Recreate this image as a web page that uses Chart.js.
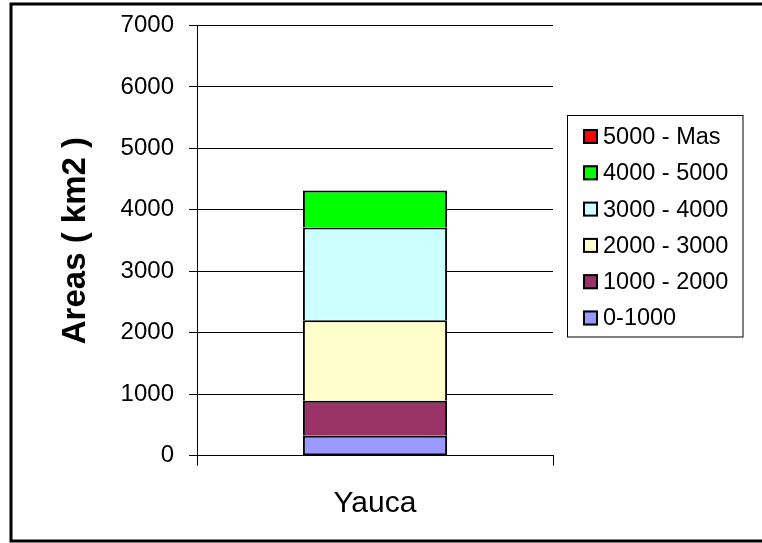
<!DOCTYPE html>
<html>
<head>
<meta charset="utf-8">
<script src="https://cdn.jsdelivr.net/npm/chart.js@4/dist/chart.umd.min.js"></script>
<style>
html,body{margin:0;padding:0;background:#fff;}
canvas{display:block;}
</style>
</head>
<body>
<canvas id="c" width="762" height="543"></canvas>
<script>
// ---- data ----
const categories = ['Yauca'];
const seriesLabels = ['0-1000', '1000 - 2000', '2000 - 3000', '3000 - 4000', '4000 - 5000', '5000 - Mas'];
const v0_1000 = [325];
const v1000_2000 = [570];
const v2000_3000 = [1310];
const v3000_4000 = [1510];
const v4000_5000 = [600];
const v5000_mas = [0];
const seriesColors = ['#9999FF', '#993366', '#FFFFCC', '#CCFFFF', '#00FF00', '#FF0000'];
const yMin = 0, yMax = 7000, yStep = 1000;
const yTitle = 'Areas ( km2 )';

const FONT = '"Liberation Sans", Arial, Helvetica, sans-serif';
const seriesValues = [v0_1000, v1000_2000, v2000_3000, v3000_4000, v4000_5000, v5000_mas];

const datasets = seriesLabels.map((lab, i) => ({
  label: lab,
  data: seriesValues[i],
  backgroundColor: seriesColors[i],
  borderColor: '#000',
  borderWidth: 2,
  borderSkipped: i === 0 ? false : 'start',
  categoryPercentage: 1,
  barPercentage: 0.405
}));

const framePlugin = {
  id: 'frame',
  beforeDraw(chart) {
    const ctx = chart.ctx;
    ctx.save();
    ctx.fillStyle = '#fff';
    ctx.fillRect(0, 0, chart.width, chart.height);
    ctx.strokeStyle = '#000';
    ctx.lineWidth = 3;
    ctx.strokeRect(11, 4, 780, 537);
    ctx.restore();
  },
  afterDraw(chart) {
    const ctx = chart.ctx;
    ctx.save();
    ctx.strokeStyle = '#000';
    ctx.lineWidth = 1;
    ctx.strokeRect(567.5, 115.5, 175.5, 221.5);
    const ds = chart.data.datasets;
    ctx.font = '23.5px ' + FONT;
    ctx.textBaseline = 'middle';
    ctx.textAlign = 'left';
    for (let i = 0; i < ds.length; i++) {
      const d = ds[ds.length - 1 - i];
      const cy = 136.5 + i * 36.3;
      ctx.fillStyle = d.backgroundColor;
      ctx.fillRect(583, cy - 7.5, 15, 15);
      ctx.lineWidth = 2;
      ctx.strokeStyle = '#000';
      ctx.strokeRect(584, cy - 6.5, 13, 13);
      ctx.fillStyle = '#000';
      ctx.fillText(d.label, 603, cy + 1);
    }
    ctx.restore();
  }
};

new Chart(document.getElementById('c'), {
  type: 'bar',
  data: { labels: categories, datasets: datasets },
  options: {
    responsive: false,
    animation: false,
    devicePixelRatio: 1,
    layout: { padding: { left: 0, right: 209, top: 25.5, bottom: 0 } },
    plugins: { legend: { display: false }, tooltip: { enabled: false } },
    scales: {
      x: {
        stacked: true,
        offset: true,
        grid: { offset: true, drawOnChartArea: false, drawTicks: true, tickLength: 10, color: '#000', lineWidth: 1 },
        border: { display: true, color: '#000', width: 1 },
        ticks: { color: '#000', font: { family: FONT, size: 30 }, padding: 20 },
        afterFit(s) { s.height = 87.3; s.paddingLeft = 0; s.paddingRight = 0; }
      },
      y: {
        stacked: true,
        min: yMin,
        max: yMax,
        ticks: { stepSize: yStep, color: '#000', font: { family: FONT, size: 24 }, padding: 15, callback: v => String(v) },
        grid: { color: '#000', lineWidth: 1, tickLength: 8 },
        border: { display: true, color: '#000', width: 1 },
        title: { display: true, text: yTitle, color: '#000', font: { family: FONT, size: 33, weight: 'bold' }, padding: { top: 56, bottom: 0 } },
        afterFit(s) { s.width = 197; s.paddingTop = 0; s.paddingBottom = 0; }
      }
    }
  },
  plugins: [framePlugin]
});
</script>
</body>
</html>
